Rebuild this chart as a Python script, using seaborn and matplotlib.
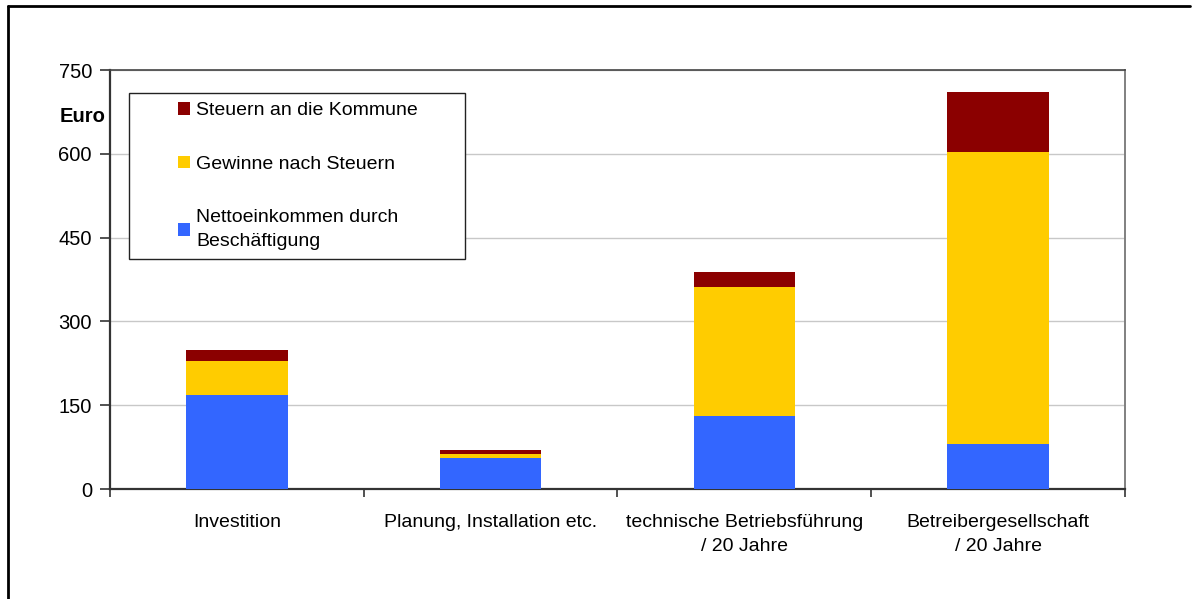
import pandas as pd
import matplotlib
matplotlib.use("Agg")
import matplotlib.pyplot as plt
import matplotlib.patches as mpatches
from matplotlib.lines import Line2D
import seaborn as sb

# data (Euro)
categories = [
    "Investition",
    "Planung, Installation etc.",
    "technische Betriebsführung\n/ 20 Jahre",
    "Betreibergesellschaft\n/ 20 Jahre",
]
netto = [168, 56, 131, 81]
gewinne = [61, 7, 231, 523]
steuern = [20, 6, 27, 106]

series_labels = ["Steuern an die Kommune", "Gewinne nach Steuern",
                 "Nettoeinkommen durch\nBeschäftigung"]
colors = ["#8b0000", "#ffcc00", "#3366ff"]
y_ticks = [0, 150, 300, 450, 600, 750]

sb.set_style("white")
plt.rcParams["font.family"] = ["Liberation Sans", "DejaVu Sans"]
plt.rcParams["text.color"] = "black"
fs = 14

df = pd.DataFrame({"cat": categories, "netto": netto,
                   "gewinne": gewinne, "steuern": steuern})
df["b2"] = df["netto"] + df["gewinne"]

fig = plt.figure(figsize=(11.97, 5.99), dpi=100)
ax = fig.add_axes([0.0919, 0.1836, 0.8479, 0.6995])

# stacked bars
sb.barplot(data=df, x="cat", y="netto", color=colors[2], width=0.4,
           saturation=1, ax=ax, zorder=3)
sb.barplot(data=df, x="cat", y="gewinne", bottom=df["netto"], color=colors[1],
           width=0.4, saturation=1, ax=ax, zorder=3)
sb.barplot(data=df, x="cat", y="steuern", bottom=df["b2"], color=colors[0],
           width=0.4, saturation=1, ax=ax, zorder=3)
for p in ax.patches:
    p.set_linewidth(0)

ax.set_xlim(-0.5, 3.5)
ax.set_ylim(0, 750)
ax.set_yticks(y_ticks)
ax.set_yticklabels([str(v) for v in y_ticks], fontsize=14.5)
ax.set_xlabel("")
ax.set_ylabel("")
ax.set_xticks(range(4))
ax.set_xticklabels(categories, fontsize=fs, linespacing=1.55)
ax.set_xticks([-0.5, 0.5, 1.5, 2.5, 3.5], minor=True)
ax.tick_params(axis="x", which="major", length=0, pad=18, labelcolor="black")
ax.tick_params(axis="x", which="minor", length=6, width=1.2, color="#333333",
               direction="out", bottom=True)
ax.tick_params(axis="y", length=7, width=1.2, color="#333333", pad=6, left=True,
               labelcolor="black")

ax.yaxis.grid(True, color="#c8c8c8", linewidth=1)
ax.set_axisbelow(True)
for s in ["left", "bottom"]:
    ax.spines[s].set_color("#333333")
    ax.spines[s].set_linewidth(1.6)
ax.spines["top"].set_color("#444444")
ax.spines["top"].set_linewidth(1.2)
ax.spines["right"].set_color("#808080")
ax.spines["right"].set_linewidth(1.4)

ax.text(-0.004, 0.89, "Euro", transform=ax.transAxes, ha="right",
        va="center", fontsize=14.5, fontweight="bold")

# legend with its own frame
frame = mpatches.Rectangle((0.0187, 0.549), 0.331, 0.396, transform=ax.transAxes,
                           facecolor="white", edgecolor="#222222",
                           linewidth=1.0, zorder=4)
ax.add_patch(frame)
handles = [mpatches.Patch(facecolor=c, edgecolor="none") for c in colors]
leg = ax.legend(handles, series_labels, loc="upper left",
                bbox_to_anchor=(0.067, 0.923), frameon=False, fontsize=fs,
                handlelength=0.62, handleheight=0.62, handletextpad=0.3,
                labelspacing=1.87, borderpad=0, borderaxespad=0)
leg.set_zorder(5)
for t in leg.get_texts():
    t.set_linespacing(1.5)

# outer border of the picture
fig.add_artist(Line2D([0.0067, 0.0067], [0.0, 0.99], transform=fig.transFigure,
                      color="black", linewidth=2))
fig.add_artist(Line2D([0.0067, 0.994], [0.99, 0.99], transform=fig.transFigure,
                      color="black", linewidth=2))

plt.savefig("out.png", dpi=100)
plt.close()
